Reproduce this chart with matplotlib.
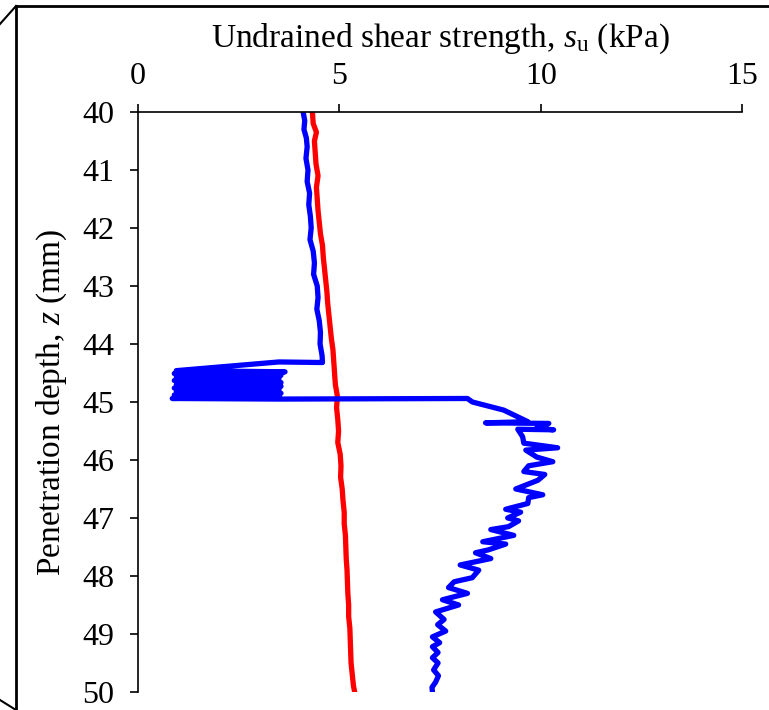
import matplotlib
matplotlib.use("Agg")
import matplotlib.pyplot as plt
from matplotlib.lines import Line2D

plt.rcParams['font.family'] = ['Liberation Serif', 'DejaVu Serif']
plt.rcParams['mathtext.fontset'] = 'custom'
plt.rcParams['mathtext.rm'] = 'Liberation Serif'
plt.rcParams['mathtext.it'] = 'Liberation Serif:italic'

# red profile (depth in mm, strength in kPa)
red_z = [40.0, 40.2, 40.35, 40.5, 40.7, 40.9, 41.1, 41.3, 41.5, 41.7, 41.9,
         42.1, 42.3, 42.5, 42.7, 42.9, 43.1, 43.3, 43.5, 43.7, 43.9, 44.1,
         44.3, 44.5, 44.7, 44.9, 45.1, 45.3, 45.5, 45.7, 45.9, 46.1, 46.3,
         46.5, 46.7, 46.9, 47.1, 47.3, 47.5, 47.7, 47.9, 48.1, 48.3, 48.5,
         48.7, 48.9, 49.1, 49.3, 49.5, 49.7, 49.9, 50.0]
red_s = [4.33, 4.35, 4.43, 4.38, 4.40, 4.42, 4.47, 4.43, 4.45, 4.47, 4.50,
         4.53, 4.58, 4.60, 4.63, 4.66, 4.69, 4.71, 4.74, 4.77, 4.80, 4.84,
         4.86, 4.88, 4.90, 4.95, 4.93, 4.96, 4.98, 4.96, 5.02, 5.04, 5.03,
         5.07, 5.09, 5.12, 5.12, 5.15, 5.16, 5.17, 5.19, 5.20, 5.21, 5.23,
         5.23, 5.26, 5.27, 5.28, 5.29, 5.32, 5.35, 5.38]

# blue profile
blue_z = [40.0, 40.15, 40.3, 40.45, 40.6, 40.8, 41.0, 41.2, 41.4, 41.6, 41.8,
          42.0, 42.2, 42.4, 42.6, 42.8, 43.0, 43.2, 43.4, 43.6, 43.8, 44.0,
          44.2, 44.32, 44.31, 44.46,
          44.48, 44.51, 44.54, 44.57, 44.60, 44.63, 44.665, 44.70, 44.73,
          44.76, 44.79, 44.82, 44.85, 44.88, 44.91, 44.94, 44.95,
          44.94, 45.0, 45.14, 45.34, 45.36, 45.37, 45.45, 45.48, 45.47,
          45.6, 45.71, 45.79, 45.83, 45.95, 46.03, 46.1, 46.2, 46.25, 46.35,
          46.5, 46.6, 46.65, 46.75, 46.85, 46.9, 47.0, 47.05, 47.15, 47.2,
          47.3, 47.41, 47.45, 47.55, 47.6, 47.7, 47.81, 47.9, 48.03, 48.1,
          48.2, 48.3, 48.41, 48.5, 48.62, 48.75, 48.84, 48.95, 49.05, 49.15,
          49.22, 49.32, 49.41, 49.5, 49.62, 49.72, 49.83, 49.92, 50.0]
blue_s = [4.10, 4.14, 4.12, 4.18, 4.20, 4.17, 4.22, 4.20, 4.26, 4.24, 4.28,
          4.30, 4.27, 4.35, 4.38, 4.36, 4.45, 4.47, 4.44, 4.50, 4.53, 4.52,
          4.57, 4.58, 3.5, 0.95,
          3.65, 0.9, 3.55, 0.95, 3.5, 0.9, 3.55, 0.95, 3.55, 0.9, 3.5,
          0.95, 3.55, 0.9, 3.5, 0.85, 3.5,
          8.18, 8.3, 9.08, 9.68, 8.63, 10.2, 9.9, 10.32, 9.43,
          9.55, 9.58, 10.42, 9.63, 9.9, 10.3, 9.7, 9.58, 10.1, 9.93,
          9.38, 10.05, 9.7, 9.68, 9.13, 9.5, 9.18, 9.45, 9.2, 8.76,
          9.33, 8.56, 9.13, 8.7, 8.38, 8.76, 8.0, 8.46, 8.3, 7.85,
          7.71, 8.18, 7.56, 7.96, 7.39, 7.6, 7.44, 7.64, 7.31, 7.49,
          7.31, 7.45, 7.31, 7.45, 7.34, 7.46, 7.39, 7.30, 7.31]

x_ticks = [0, 5, 10, 15]
y_ticks = [40, 41, 42, 43, 44, 45, 46, 47, 48, 49, 50]

fig = plt.figure(figsize=(7.69, 7.10), dpi=100)
ax = fig.add_axes([0.1795, 0.0254, 0.7855, 0.8169])

ax.plot(red_s, red_z, color='#ff0000', linewidth=3.8, solid_capstyle='round',
        solid_joinstyle='round')
ax.plot(blue_s, blue_z, color='#0000ff', linewidth=3.8, solid_capstyle='round',
        solid_joinstyle='round')

ax.set_xlim(0, 15)
ax.set_ylim(50, 40)
ax.set_xticks(x_ticks)
ax.set_yticks(y_ticks)
ax.xaxis.tick_top()
ax.xaxis.set_label_position('top')
ax.tick_params(axis='both', direction='out', labelsize=23, width=1.2,
               length=6, colors='black')
ax.tick_params(axis='x', pad=9)
ax.tick_params(axis='y', pad=11)
ax.spines['right'].set_visible(False)
ax.spines['bottom'].set_visible(False)
ax.spines['top'].set_linewidth(1.2)
ax.spines['left'].set_linewidth(1.2)

ax.set_xlabel(r'Undrained shear strength, $s_\mathrm{u}$ (kPa)', fontsize=24,
              labelpad=11)
ax.set_ylabel(r'Penetration depth, $z$ (mm)', fontsize=24, labelpad=10)

# outer frame with bevelled left edge
fig.add_artist(Line2D([16 / 769, 1.0], [1 - 6 / 710, 1 - 6 / 710],
                      transform=fig.transFigure, color='black', lw=2))
fig.add_artist(Line2D([16 / 769, 16 / 769], [1 - 6 / 710, 0.0],
                      transform=fig.transFigure, color='black', lw=2))
fig.add_artist(Line2D([0.0, 16 / 769], [1 - 24 / 710, 1 - 6 / 710],
                      transform=fig.transFigure, color='black', lw=1.5))
fig.add_artist(Line2D([0.0, 16 / 769], [1 - 700 / 710, 0.0],
                      transform=fig.transFigure, color='black', lw=1.5))

fig.savefig('out.png', dpi=100)
